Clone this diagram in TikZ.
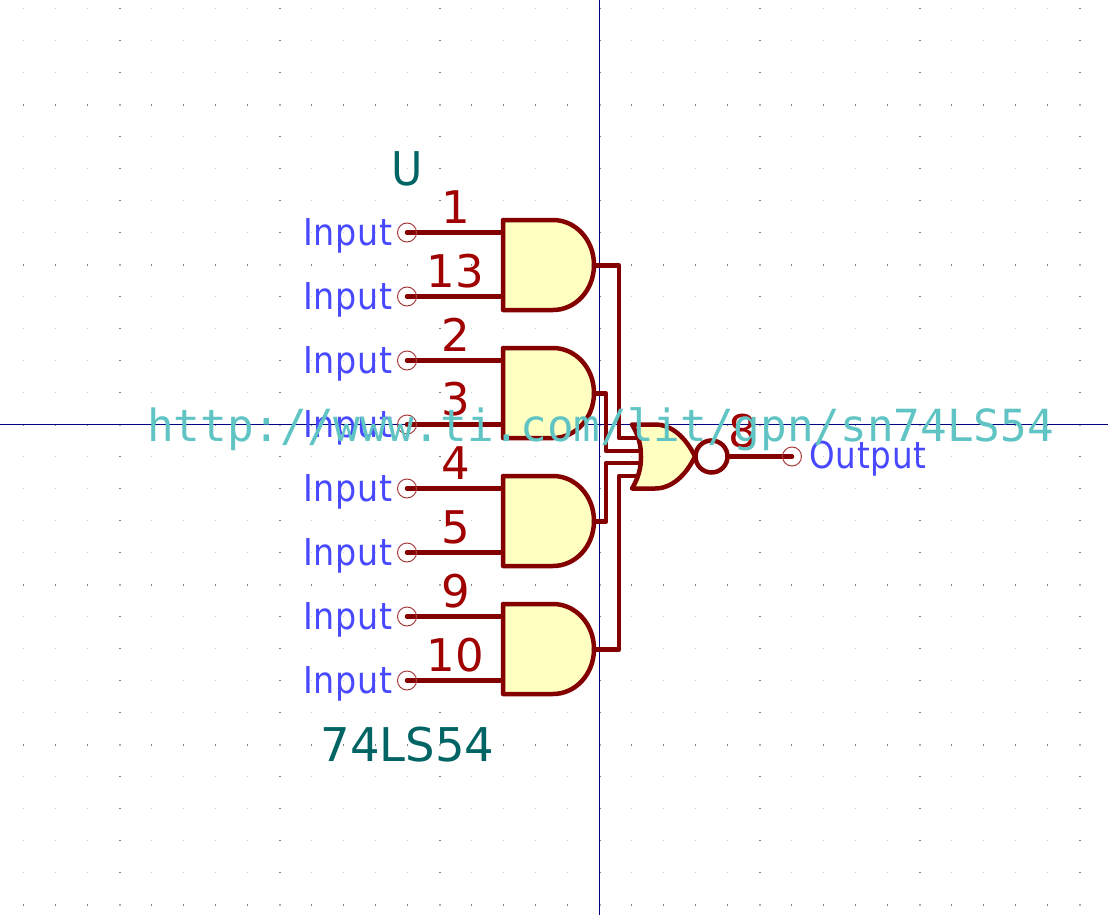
\documentclass[tikz,border=0pt]{standalone}
\usepackage{fontspec}
\setmainfont{DejaVu Sans}
\newfontfamily\pinfont{DejaVu Sans}
\newfontfamily\reffont[FakeStretch=0.92]{DejaVu Sans}
\newfontfamily\portfont[FakeStretch=0.9,LetterSpace=2.5]{DejaVu Sans}
\newfontfamily\outfont[FakeStretch=0.88,LetterSpace=2.5]{DejaVu Sans}
\newfontfamily\urlfont{DejaVu Sans Mono}
\definecolor{wirered}{HTML}{840000}
\definecolor{pinred}{HTML}{A00000}
\definecolor{openred}{HTML}{A83C3C}
\definecolor{bodyfill}{HTML}{FFFFC2}
\definecolor{portblue}{HTML}{4848FF}
\definecolor{refteal}{HTML}{006464}
\definecolor{urlcyan}{HTML}{60C4C4}
\definecolor{crossnavy}{HTML}{000084}
\tikzset{
  wire/.style={draw=wirered,line width=4.5pt,line cap=round,line join=round},
  gatebody/.style={wire,fill=bodyfill},
  opencirc/.style={draw=openred,line width=1pt,fill=none},
  crossline/.style={draw=crossnavy,line width=1pt},
  lblbase/.style={inner sep=0pt,outer sep=0pt},
  pinnum/.style={lblbase,anchor=base,text=pinred,font=\pinfont\fontsize{45}{45}\selectfont},
  portlbl/.style={lblbase,anchor=base west,text=portblue,font=\portfont\fontsize{37}{37}\selectfont},
  reflbl/.style={lblbase,anchor=base,text=refteal,font=\pinfont\fontsize{46.5}{46.5}\selectfont},
  urllbl/.style={lblbase,anchor=base west,text=urlcyan,font=\urlfont\fontsize{44.3}{44.3}\selectfont}
}
\begin{document}
\begin{tikzpicture}[x=1pt,y=-1pt]
\useasboundingbox (0,0) rectangle (1108,915);
\fill[white] (0,0) rectangle (1108,915);
% grid
\foreach \k in {0,...,34}{\foreach \j in {0,...,28}{
  \fill[black!20] ({23+32*\k},{8+32*\j}) rectangle ++(1,1);
}}
\foreach \j in {104,264,424,584,744,904}{\foreach \k in {0,...,34}{
  \fill[black!50] ({23+32*\k},\j) rectangle ++(1,2);
}}
\foreach \k in {119,279,439,599,759,919,1079}{\foreach \j in {0,...,28}{
  \fill[black!50] (\k,{8+32*\j}) rectangle ++(2,1);
}}
\foreach \k in {119,279,439,599,759,919,1079}{\foreach \j in {104,264,424,584,744,904}{
  \fill[black!33] (\k,\j) rectangle ++(2,2);
}}
% crosshair
\coordinate (crossT) at (599.5,0);
\coordinate (crossB) at (599.5,915);
\coordinate (crossL) at (0,424.5);
\coordinate (crossR) at (1108,424.5);
\draw[crossline] (crossT) -- (crossB);
\draw[crossline] (crossL) -- (crossR);
% pins
\foreach \n/\y/\t in {a/232.5/1,b/296.5/13,c/360.5/2,d/424.5/3,e/488.5/4,f/552.5/5,g/616.5/9,h/680.5/10}{
  \coordinate (pin\n) at (407,\y);
  \coordinate (end\n) at (503,\y);
  \draw[wire] (pin\n) -- (end\n);
  \node[opencirc,circle,minimum size=19pt,inner sep=0pt] (open\n) at (pin\n) {};
  \node[portlbl] (port\n) at (303,\y+12.5) {Input};
  \node[pinnum] (num\n) at (455.5,\y-9) {\t};
}
% AND gates
\foreach \n/\y in {p/220,q/348,r/476,s/604}{
  \coordinate (out\n) at (594,\y+45.5);
  \draw[gatebody] (503,\y) -- (553,\y)
    .. controls (575.6,\y) and (594,\y+20) .. (594,\y+45)
    .. controls (594,\y+70) and (575.6,\y+90) .. (553,\y+90)
    -- (503,\y+90) -- cycle;
}
% wires to the NOR gate
\coordinate (inA) at (640,438);
\coordinate (inB) at (640,451);
\coordinate (inC) at (640,463);
\coordinate (inD) at (640,476);
\draw[wire] (outp) -| (619,438) -- (inA);
\draw[wire] (outq) -| (606,451) -- (inB);
\draw[wire] (outr) -| (606,463) -- (inC);
\draw[wire] (outs) -| (619,476) -- (inD);
% NOR gate
\draw[gatebody] (632,424.5) -- (655,424.5)
  .. controls (672,424.5) and (686,438) .. (695,456.5)
  .. controls (686,475) and (672,488.5) .. (655,488.5)
  -- (632,488.5)
  .. controls (639,477) and (641,467) .. (641,456.5)
  .. controls (641,446) and (639,436) .. (632,424.5) -- cycle;
\node[circle,draw=wirered,line width=4.5pt,minimum size=32pt,inner sep=0pt,fill=none] (bubble) at (711.5,456.5) {};
\coordinate (outpin) at (792,456.5);
\draw[wire] (bubble.east) -- (outpin);
\node[opencirc,circle,minimum size=19pt,inner sep=0pt] (openout) at (outpin) {};
\node[pinnum] (numout) at (743,447.5) {8};
\node[lblbase,anchor=base west,text=portblue,font=\outfont\fontsize{37}{37}\selectfont] (portout) at (809,468.5) {Output};
% reference and value
\node[lblbase,anchor=base,text=refteal,font=\reffont\fontsize{46.5}{46.5}\selectfont] (refU) at (407,185) {U};
\node[reflbl] (value) at (407.5,761) {74LS54};
\node[urllbl] (url) at (147.2,441) {http://www.ti.com/lit/gpn/sn74LS54};
\end{tikzpicture}
\end{document}
